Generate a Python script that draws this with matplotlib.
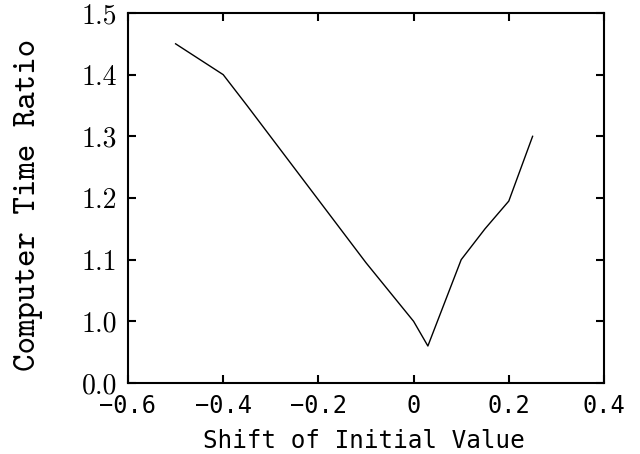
import matplotlib
matplotlib.use("Agg")
import matplotlib.pyplot as plt

# Data
shift = [-0.5, -0.4, -0.35, -0.2, -0.1, 0.0, 0.03, 0.1, 0.15, 0.2, 0.25]
ratio = [1.45, 1.40, 1.35, 1.197, 1.095, 1.0, 0.96, 1.10, 1.15, 1.195, 1.30]

xticks = [-0.6, -0.4, -0.2, 0.0, 0.2, 0.4]
xtick_labels = ["\u22120.6", "\u22120.4", "\u22120.2", "0", "0.2", "0.4"]
# broken y axis: bottom tick labelled 0.0 sits one step below 1.0
yticks = [0.9, 1.0, 1.1, 1.2, 1.3, 1.4, 1.5]
ytick_labels = ["0.0", "1.0", "1.1", "1.2", "1.3", "1.4", "1.5"]

fig = plt.figure(figsize=(6.4, 4.54), dpi=100)
ax = fig.add_axes([0.2, 0.1564, 0.74375, 0.815])

ax.plot(shift, ratio, color="black", linewidth=1.0)

ax.set_xlim(-0.6, 0.4)
ax.set_ylim(0.9, 1.5)
ax.set_xticks(xticks)
ax.set_xticklabels(xtick_labels, family="DejaVu Sans Mono", fontsize=17)
ax.set_yticks(yticks)
ax.set_yticklabels(ytick_labels, family="cmr10", fontsize=20)

ax.tick_params(direction="in", length=6, width=1.5, top=True, right=True,
               color="black")
ax.tick_params(axis="x", pad=8)
ax.tick_params(axis="y", pad=8)
for s in ax.spines.values():
    s.set_linewidth(1.5)
    s.set_color("black")

ax.set_xlabel("Shift of Initial Value", family="DejaVu Sans Mono", fontsize=17.5)
ax.xaxis.set_label_coords(0.496, -0.125)
ax.xaxis.label.set_va("top")
ax.set_ylabel("Computer Time Ratio", family="cmtt10", fontsize=24)
ax.yaxis.set_label_coords(-0.21, 0.48)
ax.yaxis.label.set_va("center")

fig.savefig("out.png", dpi=100)
